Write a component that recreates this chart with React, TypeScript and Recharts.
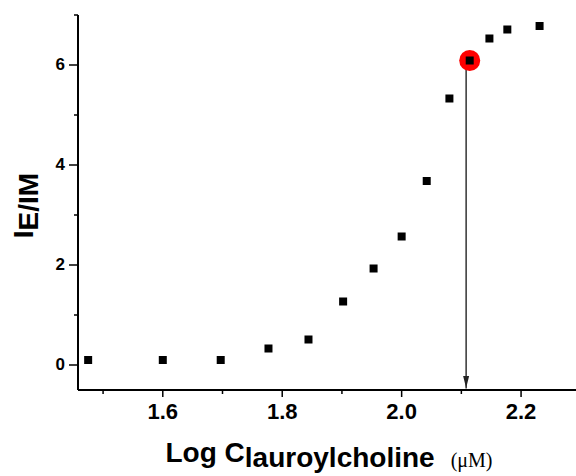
import React from 'react';
import { ScatterChart, Scatter, XAxis, YAxis, ReferenceLine, ReferenceDot } from 'recharts';

const logC = [1.475, 1.6, 1.697, 1.777, 1.844, 1.902, 1.953, 2.0, 2.042, 2.08, 2.114, 2.147, 2.177, 2.231];
const ratio = [0.1, 0.1, 0.1, 0.33, 0.51, 1.27, 1.93, 2.57, 3.68, 5.33, 6.09, 6.53, 6.71, 6.78];
const cmcPoint = [{ x: 2.114, y: 6.09 }];
const arrowX = 2.108;
const xTicks = [1.5, 1.6, 1.7, 1.8, 1.9, 2.0, 2.1, 2.2];
const xMajor = [1.6, 1.8, 2.0, 2.2];
const yTicks = [0, 1, 2, 3, 4, 5, 6, 7];
const yMajor = [0, 2, 4, 6];

const points = logC.map((x, i) => ({ x, y: ratio[i] }));

const SANS = "'Liberation Sans', Arial, sans-serif";

const XTick = (props: any) => {
  const { x, y, payload } = props;
  const major = xMajor.includes(payload.value);
  return (
    <g>
      <line x1={x} y1={y} x2={x} y2={y + (major ? 7 : 4)} stroke="#000" strokeWidth={1.5} />
      {major && (
        <text x={x} y={y + 29} textAnchor="middle" fontFamily={SANS} fontWeight="bold" fontSize={22} fill="#000">
          {payload.value.toFixed(1)}
        </text>
      )}
    </g>
  );
};

const YTick = (props: any) => {
  const { x, y, payload } = props;
  const major = yMajor.includes(payload.value);
  return (
    <g>
      <line x1={x} y1={y} x2={x - (major ? 9 : 4)} y2={y} stroke="#000" strokeWidth={1.5} />
      {major && (
        <text x={x - 13} y={y + 5} textAnchor="end" fontFamily={SANS} fontWeight="bold" fontSize={17} fill="#000">
          {String(payload.value)}
        </text>
      )}
    </g>
  );
};

const XLabel = (props: any) => {
  const vb = props.viewBox || { x: 78, y: 390, width: 498 };
  const cx = vb.x + vb.width / 2 + 2;
  const by = vb.y + 72;
  return (
    <text x={cx} y={by} textAnchor="middle" fill="#000">
      <tspan fontFamily={SANS} fontWeight="bold" fontSize={28}>Log C</tspan>
      <tspan fontFamily={SANS} fontWeight="bold" fontSize={28} dy={5}>lauroylcholine</tspan>
      <tspan fontFamily="'Liberation Serif', 'Times New Roman', serif" fontSize={20} dx={16}>(μM)</tspan>
    </text>
  );
};

const YLabel = (props: any) => {
  const vb = props.viewBox || { x: 0, y: 15, width: 78, height: 375 };
  const cy = vb.y + vb.height / 2 + 3;
  const bx = 33;
  return (
    <text x={bx} y={cy} transform={`rotate(-90 ${bx} ${cy})`} textAnchor="middle" fill="#000">
      <tspan fontFamily={SANS} fontWeight="bold" fontSize={28}>I</tspan>
      <tspan fontFamily={SANS} fontWeight="bold" fontSize={28} dy={5}>E/IM</tspan>
    </text>
  );
};

const Square = (props: any) => (
  <rect x={props.cx - 4} y={props.cy - 4} width={8} height={8} fill="#000" />
);

const RedDot = (props: any) => <circle cx={props.cx} cy={props.cy} r={10.5} fill="#ff0000" />;

const ArrowHead = (props: any) => (
  <path d={`M${props.cx - 3},${props.cy - 12} L${props.cx + 3},${props.cy - 12} L${props.cx},${props.cy} Z`} fill="#222" />
);

export default function App() {
  return (
    <div style={{ position: 'absolute', left: 0, top: 0, width: 576, height: 476, background: '#fff' }}>
      <ScatterChart width={576} height={476} margin={{ top: 15, right: 0, bottom: 0, left: 0 }}>
        <XAxis
          type="number"
          dataKey="x"
          domain={[1.458, 2.292]}
          ticks={xTicks}
          interval={0}
          tick={<XTick />}
          tickLine={false}
          tickSize={0}
          tickMargin={0}
          height={86}
          axisLine={{ stroke: '#000', strokeWidth: 2 }}
          allowDataOverflow
          label={{ content: <XLabel /> }}
        />
        <YAxis
          type="number"
          dataKey="y"
          domain={[-0.5, 7]}
          ticks={yTicks}
          interval={0}
          tick={<YTick />}
          tickLine={false}
          tickSize={0}
          tickMargin={0}
          width={78}
          axisLine={{ stroke: '#000', strokeWidth: 2 }}
          allowDataOverflow
          label={{ content: <YLabel /> }}
        />
        <ReferenceLine
          segment={[{ x: arrowX, y: 6.0 }, { x: arrowX, y: -0.47 }]}
          stroke="#333"
          strokeWidth={1.5}
        />
        <ReferenceDot x={arrowX} y={-0.46} shape={<ArrowHead />} />
        <Scatter data={cmcPoint} shape={<RedDot />} isAnimationActive={false} />
        <Scatter data={points} shape={<Square />} isAnimationActive={false} />
      </ScatterChart>
    </div>
  );
}
